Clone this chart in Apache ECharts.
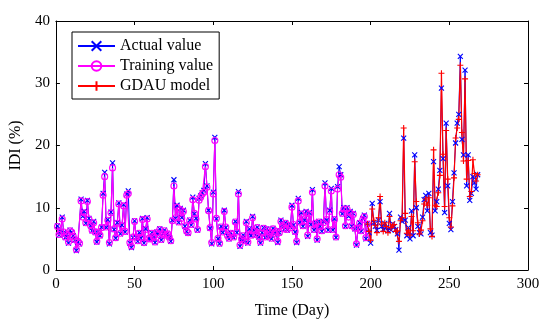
<!DOCTYPE html>
<html>
<head>
<meta charset="utf-8">
<script src="https://cdn.jsdelivr.net/npm/echarts@6/dist/echarts.min.js"></script>
<style>
  html, body { margin: 0; padding: 0; background: #fff; }
  #chart { width: 550px; height: 332px; }
</style>
</head>
<body>
<div id="chart"></div>
<script>
// ── Data ──────────────────────────────────────────────────────────────────────
// Actual IDI, one value per day starting at day 1
const actualStart = 1;
const actualValues = [
  7.1, 5.6, 6.2, 8.5, 6.0, 5.2, 5.8, 4.3, 6.4, 6.0,
  5.5, 4.8, 3.1, 4.5, 4.2, 11.4, 8.6, 9.4, 7.5, 11.2,
  8.3, 7.1, 6.3, 7.8, 6.0, 4.5, 6.2, 5.5, 6.9, 12.3,
  15.7, 6.8, 8.1, 4.2, 9.3, 17.2, 6.5, 5.1, 7.6, 10.8,
  5.8, 7.2, 10.5, 6.1, 12.2, 12.7, 4.3, 3.6, 5.2, 7.9,
  5.2, 4.6, 6.0, 5.1, 8.3, 4.3, 6.6, 8.4, 5.0, 4.9,
  6.0, 5.3, 4.4, 6.1, 5.6, 6.6, 4.8, 5.9, 6.4, 5.5,
  5.9, 5.2, 4.6, 8.0, 14.5, 8.3, 10.4, 7.6, 9.9, 8.4,
  9.6, 7.0, 6.2, 5.9, 8.0, 7.2, 11.7, 9.0, 8.3, 6.4,
  11.5, 11.9, 12.4, 12.8, 17.1, 13.5, 9.6, 6.7, 4.2, 12.5,
  21.3, 8.2, 5.0, 4.2, 7.0, 6.0, 9.6, 6.8, 5.5, 5.0,
  6.0, 5.6, 5.2, 7.8, 6.0, 12.6, 3.8, 4.9, 5.6, 4.6,
  7.8, 4.3, 6.6, 5.5, 8.6, 6.4, 5.6, 6.9, 5.3, 4.3,
  6.0, 6.8, 5.2, 6.6, 5.4, 6.2, 5.0, 6.7, 5.8, 6.3,
  4.4, 6.0, 8.0, 7.2, 6.5, 7.6, 6.4, 7.3, 6.9, 10.4,
  7.2, 6.1, 4.4, 11.5, 7.6, 9.2, 7.0, 8.0, 9.4, 5.4,
  9.2, 7.3, 12.9, 6.4, 7.6, 4.8, 7.8, 7.0, 6.2, 7.8,
  14.0, 8.0, 6.4, 9.6, 13.1, 6.4, 8.2, 5.2, 13.4, 16.6,
  15.3, 9.0, 10.0, 7.0, 10.0, 8.6, 9.4, 7.0, 9.1, 6.6,
  4.0, 6.8, 7.6, 6.2, 8.3, 8.8, 5.0, 7.5, 6.0, 4.3,
  10.7, 7.6, 7.0, 6.4, 8.0, 11.0, 7.0, 6.5, 7.5, 6.8,
  6.3, 9.1, 6.4, 7.4, 7.0, 6.5, 5.8, 3.2, 8.5, 7.8,
  21.2, 8.0, 5.5, 6.8, 5.0, 9.5, 5.5, 18.5, 10.0, 7.0,
  6.0, 5.8, 8.5, 11.3, 12.0, 9.5, 12.3, 6.0, 5.6, 17.4,
  9.5, 11.0, 13.0, 16.0, 29.2, 17.9, 9.2, 23.6, 13.5, 7.5,
  6.5, 11.0, 15.6, 20.4, 23.6, 25.0, 34.3, 21.0, 18.5, 32.1,
  13.5, 18.5, 11.2, 12.3, 15.0, 14.0, 13.0, 15.3
];

// Training (fitted) values, days 1-198
const trainStart = 1;
const trainValues = [
  7.0, 5.7, 6.1, 8.2, 6.1, 5.3, 5.7, 4.5, 6.3, 6.1,
  5.4, 4.9, 3.3, 4.6, 4.3, 11.1, 8.5, 9.2, 7.6, 11.0,
  8.2, 7.2, 6.4, 7.6, 6.1, 4.6, 6.1, 5.6, 6.8, 12.0,
  15.0, 6.9, 8.0, 4.4, 9.2, 16.4, 6.6, 5.2, 7.5, 10.6,
  5.9, 7.1, 10.3, 6.2, 12.0, 12.3, 4.4, 3.8, 5.3, 7.8,
  5.3, 4.7, 5.9, 5.2, 8.1, 4.4, 6.5, 8.2, 5.1, 5.0,
  5.9, 5.4, 4.5, 6.0, 5.7, 6.5, 4.9, 5.8, 6.3, 5.6,
  5.8, 5.3, 4.7, 7.9, 13.5, 8.4, 10.1, 7.7, 9.7, 8.3,
  9.4, 7.1, 6.3, 6.0, 7.9, 7.3, 11.3, 9.1, 8.2, 6.5,
  11.2, 11.7, 12.2, 12.5, 16.6, 13.3, 9.5, 6.8, 4.4, 12.2,
  20.8, 8.3, 5.1, 4.3, 6.9, 6.1, 9.4, 6.9, 5.6, 5.1,
  5.9, 5.7, 5.3, 7.7, 6.1, 12.2, 4.0, 5.0, 5.5, 4.7,
  7.6, 4.5, 6.5, 5.6, 8.4, 6.3, 5.7, 6.8, 5.4, 4.5,
  5.9, 6.7, 5.3, 6.5, 5.5, 6.1, 5.1, 6.6, 5.9, 6.2,
  4.6, 6.0, 7.8, 7.1, 6.6, 7.5, 6.5, 7.2, 6.8, 10.1,
  7.3, 6.2, 4.6, 11.1, 7.7, 9.0, 7.1, 7.9, 9.2, 5.6,
  9.0, 7.4, 12.5, 6.5, 7.5, 5.0, 7.7, 7.0, 6.3, 7.6,
  13.5, 8.1, 6.5, 9.4, 12.7, 6.5, 8.1, 5.3, 13.0, 15.3,
  14.9, 9.1, 9.8, 7.1, 9.8, 8.5, 9.2, 7.1, 8.9, 6.7,
  4.2, 6.7, 7.5, 6.3, 8.1, 8.6, 5.2, 7.4
];

// GDAU model values, days 198-268
const gdauStart = 198;
const gdauValues = [
  7.4, 6.2, 4.8,
  9.8, 8.0, 7.2, 6.0, 8.4, 11.8, 7.4, 6.2, 7.6, 7.0,
  6.0, 8.6, 6.8, 7.2, 7.3, 6.2, 6.3, 4.6, 7.9, 8.4,
  22.8, 9.1, 5.9, 6.4, 5.6, 8.6, 6.3, 17.4, 11.0, 7.6,
  5.8, 6.4, 7.9, 10.6, 11.4, 10.4, 11.6, 6.6, 5.4, 19.3,
  10.4, 10.2, 12.4, 15.2, 31.6, 18.6, 10.2, 22.4, 14.6, 8.4,
  6.9, 10.3, 14.8, 21.2, 22.8, 24.2, 32.9, 22.1, 17.5, 30.7,
  14.6, 17.6, 11.8, 12.6, 17.7, 15.5, 14.3, 15.3
];

const seriesNames = ['Actual value', 'Training value', 'GDAU model'];
const xTicks = { min: 0, max: 300, interval: 50 };
const yTicks = { min: 0, max: 40, interval: 10 };

// ── Helpers ──────────────────────────────────────────────────────────────────
const toPairs = (start, vals) => vals.map((v, i) => [start + i, v]);

const FONT = '"Liberation Serif", "Times New Roman", serif';
// stroked marker shapes (MATLAB 'x' and '+')
const CROSS = 'path://M0,0L10,10M10,0L0,10';
const PLUS = 'path://M5,0L5,10M0,5L10,5';

function lineSeries(name, data, color, symbol, size, width) {
  return {
    name,
    type: 'line',
    data,
    symbol,
    symbolSize: size,
    showAllSymbol: true,
    animation: false,
    lineStyle: { color, width },
    // hollow markers: transparent fill so lines and other marks show through
    itemStyle: { color: 'rgba(0,0,0,0)', borderColor: color, borderWidth: 1.1 },
    emphasis: { disabled: true },
  };
}

const boxAxis = {
  axisLine: { show: true, onZero: false, lineStyle: { color: '#000', width: 1 } },
  axisTick: { show: true, inside: true, length: 4, lineStyle: { color: '#000' } },
  axisLabel: { show: false },
  splitLine: { show: false },
};

// ── Chart ────────────────────────────────────────────────────────────────────
const chart = echarts.init(document.getElementById('chart'), null, { renderer: 'canvas' });

chart.setOption({
  backgroundColor: '#fff',
  animation: false,
  textStyle: { fontFamily: FONT },
  grid: { left: 55, right: 22, top: 21, bottom: 62 },
  legend: {
    data: seriesNames,
    orient: 'vertical',
    left: 72,
    top: 32,
    padding: [6, 6, 5, 5],
    itemGap: 4,
    itemWidth: 37,
    itemHeight: 12,
    backgroundColor: '#fff',
    borderColor: '#000',
    borderWidth: 1,
    borderRadius: 0,
    textStyle: { fontFamily: FONT, fontSize: 16, color: '#000', lineHeight: 16 },
  },
  xAxis: [
    {
      type: 'value',
      ...xTicks,
      name: 'Time (Day)',
      nameLocation: 'middle',
      nameGap: 33,
      nameTextStyle: { fontFamily: FONT, fontSize: 16, color: '#000' },
      axisLine: { show: true, onZero: false, lineStyle: { color: '#000', width: 1 } },
      axisTick: { show: true, inside: true, length: 4, lineStyle: { color: '#000' } },
      axisLabel: { color: '#000', fontFamily: FONT, fontSize: 15, margin: 7 },
      splitLine: { show: false },
    },
    { type: 'value', position: 'top', ...xTicks, ...boxAxis },
  ],
  yAxis: [
    {
      type: 'value',
      ...yTicks,
      name: 'IDI (%)',
      nameLocation: 'middle',
      nameGap: 17,
      nameTextStyle: { fontFamily: FONT, fontSize: 16, color: '#000' },
      axisLine: { show: true, onZero: false, lineStyle: { color: '#000', width: 1 } },
      axisTick: { show: true, inside: true, length: 4, lineStyle: { color: '#000' } },
      axisLabel: { color: '#000', fontFamily: FONT, fontSize: 15, margin: 6 },
      splitLine: { show: false },
    },
    { type: 'value', position: 'right', ...yTicks, ...boxAxis },
  ],
  series: [
    lineSeries(seriesNames[0], toPairs(actualStart, actualValues), '#0000ff', CROSS, 5, 1),
    lineSeries(seriesNames[1], toPairs(trainStart, trainValues), '#ff00ff', 'circle', 6, 1.2),
    lineSeries(seriesNames[2], toPairs(gdauStart, gdauValues), '#ff0000', PLUS, 6, 1.2),
  ],
});
</script>
</body>
</html>
